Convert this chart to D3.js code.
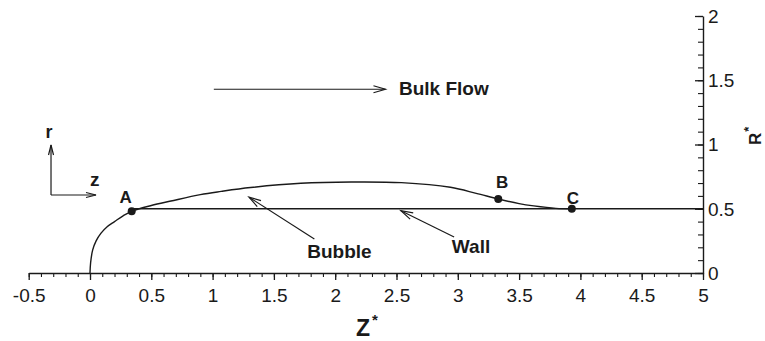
<!DOCTYPE html>
<html>
<head>
<meta charset="utf-8">
<script src="https://cdn.jsdelivr.net/npm/d3@7"></script>
<style>
  html, body { margin: 0; padding: 0; background: #fff; }
  svg { display: block; font-family: "Liberation Sans", Arial, Helvetica, sans-serif; }
</style>
</head>
<body>
<svg id="chart" width="765" height="341"></svg>
<script>
// Bubble interface profile (axial position Z*, radius R*)
const bubbleZ = [0, 0.005, 0.022, 0.05, 0.09, 0.14, 0.2, 0.27, 0.34, 0.5, 0.66, 0.9, 1.07, 1.31, 1.72, 2.13, 2.54, 2.94, 3.15, 3.33, 3.5, 3.62, 3.8, 3.93];
const bubbleR = [0, 0.08, 0.18, 0.25, 0.31, 0.36, 0.40, 0.445, 0.48, 0.525, 0.56, 0.61, 0.635, 0.665, 0.698, 0.708, 0.703, 0.667, 0.62, 0.576, 0.54, 0.522, 0.503, 0.5];

// Channel wall
const wallZ = [0.34, 5];
const wallR = [0.5, 0.5];

// Marked points on the interface
const pointNames = ["A", "B", "C"];
const pointZ = [0.34, 3.33, 3.93];
const pointR = [0.48, 0.576, 0.5];

// Axis ticks
const xTicks = [-0.5, 0, 0.5, 1, 1.5, 2, 2.5, 3, 3.5, 4, 4.5, 5];
const xTickLabels = ["-0.5", "0", "0.5", "1", "1.5", "2", "2.5", "3", "3.5", "4", "4.5", "5"];
const yTicks = [0, 0.5, 1, 1.5, 2];
const yTickLabels = ["0", "0.5", "1", "1.5", "2"];

const svg = d3.select("#chart");
const ink = "#1a1a1a";

const x = d3.scaleLinear().domain([-0.5, 5]).range([28.7, 703]);
const y = d3.scaleLinear().domain([0, 2]).range([273, 16]);

// ---- x axis (ticks pointing down) ----
const minorX = d3.range(-0.5, 5.0001, 0.1).map(v => +v.toFixed(2));
const gx = svg.append("g").attr("transform", `translate(0,${y(0)})`);
gx.append("g")
  .call(d3.axisBottom(x).tickValues(minorX).tickSize(4).tickFormat(""))
  .call(g => g.select(".domain").remove())
  .call(g => g.selectAll("line").attr("stroke", ink).attr("stroke-width", 1.1));
gx.append("g")
  .call(d3.axisBottom(x).tickValues(xTicks).tickSize(7).tickSizeOuter(0)
        .tickFormat((d, i) => xTickLabels[i]).tickPadding(14))
  .call(g => g.select(".domain").attr("stroke", ink).attr("stroke-width", 1.4))
  .call(g => g.selectAll("line").attr("stroke", ink).attr("stroke-width", 1.3))
  .call(g => g.selectAll("text").attr("font-size", 19).attr("fill", ink)
        .attr("font-family", "Liberation Sans, Arial, sans-serif").attr("dy", "0.71em").attr("y", 16));

// ---- y axis on the right (ticks pointing inward) ----
const minorY = d3.range(0, 2.0001, 0.1).map(v => +v.toFixed(2));
const gy = svg.append("g").attr("transform", `translate(${x(5)},0)`);
gy.append("g")
  .call(d3.axisLeft(y).tickValues(minorY).tickSize(5).tickFormat(""))
  .call(g => g.select(".domain").remove())
  .call(g => g.selectAll("line").attr("stroke", ink).attr("stroke-width", 1.1));
gy.append("g")
  .call(d3.axisLeft(y).tickValues(yTicks).tickSize(8).tickSizeOuter(0).tickFormat(""))
  .call(g => g.select(".domain").attr("stroke", ink).attr("stroke-width", 1.4))
  .call(g => g.selectAll("line").attr("stroke", ink).attr("stroke-width", 1.3));
gy.selectAll("text.ylab")
  .data(yTicks)
  .join("text")
  .attr("class", "ylab")
  .attr("x", 5)
  .attr("y", d => y(d))
  .attr("dy", "0.36em")
  .attr("font-size", 19)
  .attr("fill", ink)
  .text((d, i) => yTickLabels[i]);

// ---- axis titles ----
const zt = svg.append("text")
  .attr("x", 356).attr("y", 336)
  .attr("font-size", 23).attr("font-weight", "bold").attr("fill", ink);
zt.append("tspan").text("Z");
zt.append("tspan").attr("font-size", 15).attr("dy", -11).attr("dx", 2).text("*");

const rt = svg.append("text")
  .attr("transform", "translate(761,145) rotate(-90)")
  .attr("font-size", 17).attr("font-weight", "bold").attr("fill", ink);
rt.append("tspan").text("R");
rt.append("tspan").attr("font-size", 13).attr("dy", -8).attr("dx", 1).text("*");

// ---- curves ----
const line = d3.line().x(d => x(d[0])).y(d => y(d[1]));

svg.append("path")
  .datum(bubbleZ.map((z, i) => [z, bubbleR[i]]))
  .attr("fill", "none").attr("stroke", ink).attr("stroke-width", 1.4)
  .attr("d", line.curve(d3.curveCatmullRom.alpha(0.5)));

svg.append("path")
  .datum(wallZ.map((z, i) => [z, wallR[i]]))
  .attr("fill", "none").attr("stroke", ink).attr("stroke-width", 1.4)
  .attr("d", d3.line().x(d => x(d[0])).y(d => y(d[1]))(wallZ.map((z, i) => [z, wallR[i]])));

// ---- marked points ----
const labelOffset = { A: [-6, -8], B: [4, -11], C: [1, -5] };
svg.selectAll("circle.pt")
  .data(pointNames)
  .join("circle")
  .attr("class", "pt")
  .attr("cx", (d, i) => x(pointZ[i]))
  .attr("cy", (d, i) => y(pointR[i]))
  .attr("r", 4)
  .attr("fill", ink);
svg.selectAll("text.ptlab")
  .data(pointNames)
  .join("text")
  .attr("class", "ptlab")
  .attr("x", (d, i) => x(pointZ[i]) + labelOffset[d][0])
  .attr("y", (d, i) => y(pointR[i]) + labelOffset[d][1])
  .attr("text-anchor", "middle")
  .attr("font-size", 17).attr("font-weight", "bold").attr("fill", ink)
  .text(d => d);

// ---- annotation arrows ----
function arrow(x1, y1, x2, y2, len, half) {
  const ang = Math.atan2(y2 - y1, x2 - x1);
  const g = svg.append("g").attr("stroke", ink).attr("stroke-width", 1.2).attr("fill", "none");
  g.append("line").attr("x1", x1).attr("y1", y1).attr("x2", x2).attr("y2", y2);
  const bx = x2 - len * Math.cos(ang), by = y2 - len * Math.sin(ang);
  const px = -Math.sin(ang) * half, py = Math.cos(ang) * half;
  g.append("polyline")
    .attr("points", `${bx + px},${by + py} ${x2},${y2} ${bx - px},${by - py}`);
}

// Bulk flow
arrow(x(1.01), y(1.43), x(2.41), y(1.43), 12, 3.5);
svg.append("text").attr("x", x(2.52)).attr("y", y(1.385))
  .attr("font-size", 19).attr("font-weight", "bold").attr("fill", ink).text("Bulk Flow");

// Bubble and wall callouts
arrow(x(1.83), y(0.265), x(1.297), y(0.59), 12, 3.5);
svg.append("text").attr("x", x(2.035)).attr("y", y(0.117)).attr("text-anchor", "middle")
  .attr("font-size", 19).attr("font-weight", "bold").attr("fill", ink).text("Bubble");
arrow(x(2.97), y(0.28), x(2.536), y(0.485), 12, 3.5);
svg.append("text").attr("x", x(3.108)).attr("y", y(0.156)).attr("text-anchor", "middle")
  .attr("font-size", 19).attr("font-weight", "bold").attr("fill", ink).text("Wall");

// Coordinate frame (r, z)
arrow(x(-0.318), y(0.607), x(-0.318), y(0.996), 10, 2.5);
arrow(x(-0.318), y(0.607), x(0.049), y(0.607), 10, 2.5);
svg.append("text").attr("x", x(-0.318) - 2).attr("y", y(0.97) - 10).attr("text-anchor", "middle")
  .attr("font-size", 18).attr("font-weight", "bold").attr("fill", ink).text("r");
svg.append("text").attr("x", x(0.0)).attr("y", y(0.68))
  .attr("font-size", 19).attr("font-weight", "bold").attr("fill", ink).text("z");
</script>
</body>
</html>
